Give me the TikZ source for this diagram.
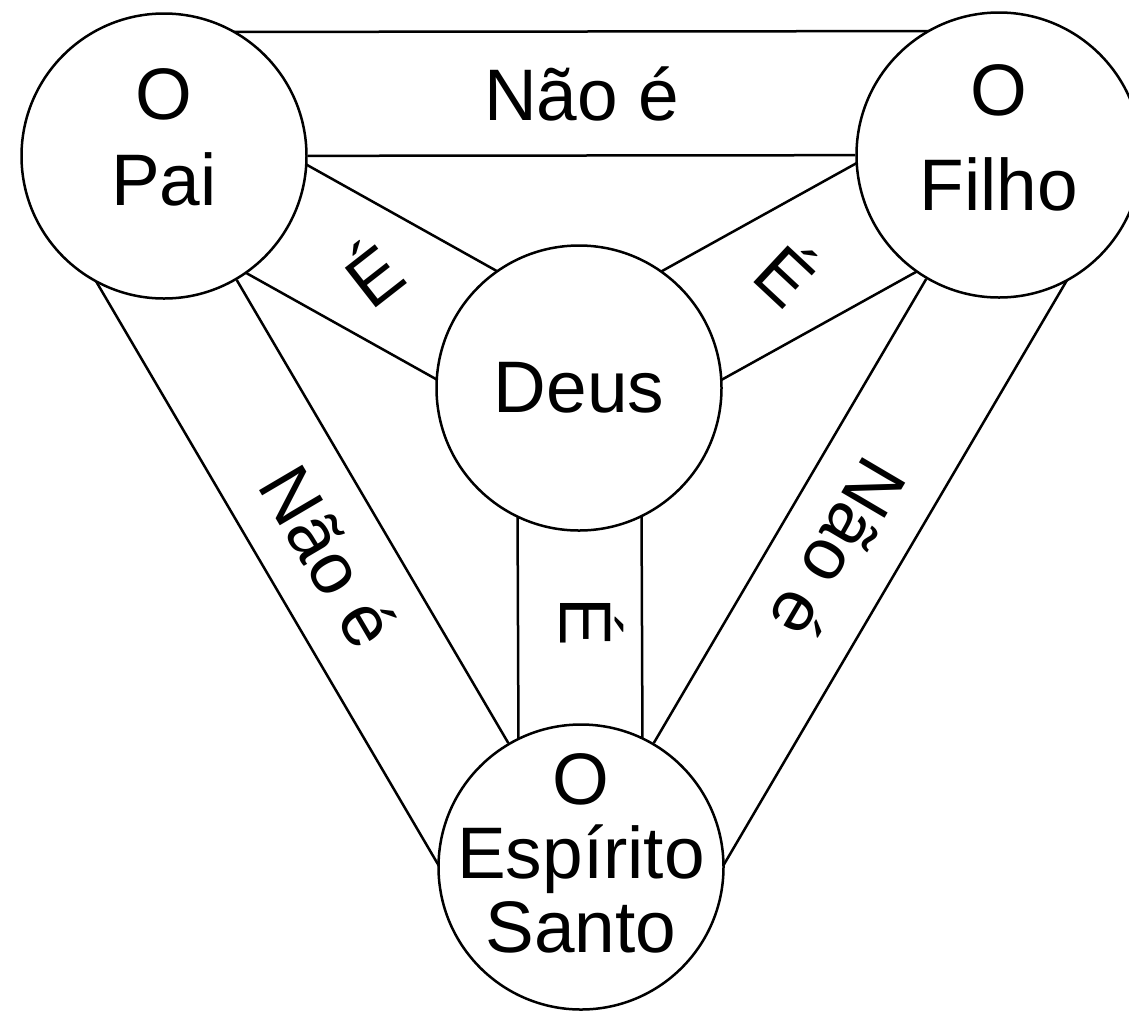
\documentclass[tikz,border=0pt]{standalone}
\usepackage{fontspec}
\setmainfont{Liberation Sans}
\usetikzlibrary{calc,backgrounds}

\begin{document}
\begin{tikzpicture}[x=1pt, y=-1pt, line width=2.5pt,
    circ/.style={draw, circle, fill=white, minimum size=285pt, inner sep=0pt},
    band/.style={draw, line width=2.5pt},
    txt/.style={align=center, inner sep=0pt, font=\fontsize{73}{86}\selectfont},
    lbl/.style={inner sep=0pt, font=\fontsize{73}{86}\selectfont}]
	\useasboundingbox (0,0) rectangle (1129,1013);
	% the four circles
	\node[circ] (pai) at (164,156) {};
	\node[circ] (filho) at (999,155) {};
	\node[circ] (deus) at (579,388) {};
	\node[circ] (esp) at (581,867) {};
	\node[txt, yshift=19pt] (pai-txt) at (pai) {O\\Pai};
	\node[txt, yshift=17pt, font=\fontsize{73}{95}\selectfont] (filho-txt) at (filho) {O\\Filho};
	\node[txt] (deus-txt) at (deus) {Deus};
	\node[txt, yshift=14pt, font=\fontsize{73}{74}\selectfont] (esp-txt) at (esp) {O\\Espírito\\Santo};
	% the bands behind the circles
	\begin{scope}[on background layer]
		\foreach \a/\b/\d in {pai/filho/124, esp/pai/122, filho/esp/122}{
			\path[band] (\a) -- (\b);
			\path[band] ($(\a)!\d pt!90:(\b)$) -- ($(\b)!\d pt!-90:(\a)$);}
		\foreach \a/\b in {pai/deus, deus/filho, deus/esp}{
			\path[band] ($(\a)!62pt!90:(\b)$) -- ($(\b)!62pt!-90:(\a)$);
			\path[band] ($(\a)!62pt!-90:(\b)$) -- ($(\b)!62pt!90:(\a)$);}
	\end{scope}
	% labels
	\node[lbl] (nao-pf) at ($(pai)!0.5!(filho)!62pt!90:(filho)$) {Não é};
	\node[lbl, rotate=-59.5] (nao-pe) at ($(esp)!0.48!(pai)!60pt!90:(pai)$) {Não é};
	\node[lbl, rotate=-120.5] (nao-fe) at ($(filho)!0.51!(esp)!62pt!90:(esp)$) {Não é};
	\node[lbl, rotate=38] (e-pd) at ($(pai)!0.5!(deus)$) {É};
	\node[lbl, rotate=-43] (e-df) at ($(deus)!0.5!(filho)$) {É};
	\node[lbl, xshift=12pt, yshift=6pt, rotate=-90] (e-de) at ($(deus)!0.5!(esp)$) {É};
\end{tikzpicture}
\end{document}
